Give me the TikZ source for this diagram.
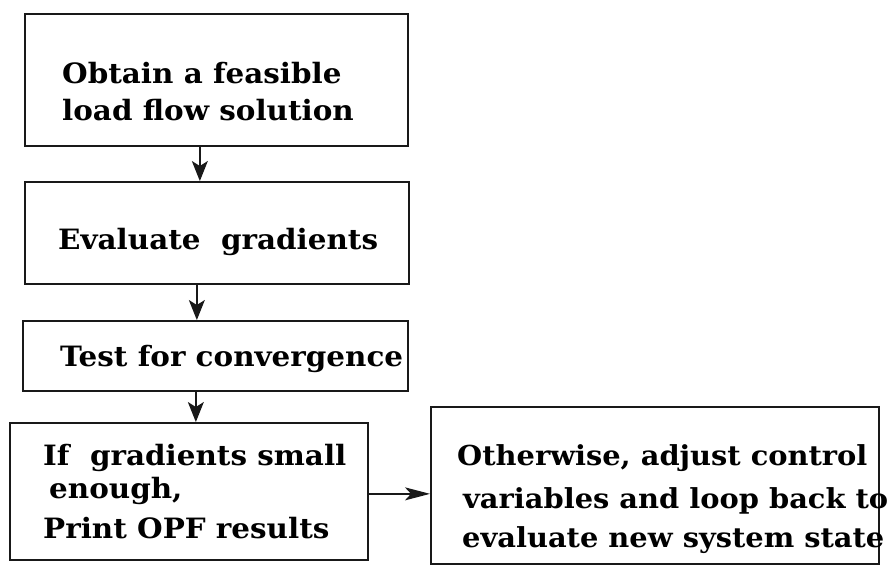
\documentclass[tikz,border=0pt]{standalone}
\usepackage{fontspec}
\setmainfont[FakeStretch=1.05]{DejaVu Serif}
\usetikzlibrary{arrows.meta}
\begin{document}
\begin{tikzpicture}[x=1pt,y=-1pt,
  box/.style={draw=black!90, line width=1.7pt, inner sep=0pt, anchor=north west},
  txt/.style={font=\bfseries\fontsize{28}{37}\selectfont, align=left, anchor=base west, inner sep=0pt},
  arr/.style={draw=black!90, line width=1.4pt, -{Stealth[length=20pt,width=16pt,inset=5pt]}},
  harr/.style={draw=black!90, line width=1.4pt, -{Stealth[length=25pt,width=13pt,inset=6pt]}}]
\useasboundingbox[fill=white] (0,0) rectangle (893,570);
% boxes
\node[box, minimum width=383pt, minimum height=132pt] (b1) at (24,13) {};
\node[box, minimum width=384pt, minimum height=102pt] (b2) at (24,181) {};
\node[box, minimum width=385pt, minimum height=70pt]  (b3) at (22,320) {};
\node[box, minimum width=358pt, minimum height=137pt] (b4) at (9,422) {};
\node[box, minimum width=448pt, minimum height=157pt] (b5) at (430,406) {};
% texts (anchor = baseline of last line)
\node[txt] (t1) at (62,120) {Obtain a feasible\\load flow solution};
\node[txt] (t2) at (58,249) {Evaluate\ \ gradients};
\node[txt] (t3) at (60,366) {Test for convergence};
\node[txt] (t4) at (43,538) {If\ \ gradients small\\[-4pt]\hspace{6pt}enough,\\[3pt]Print OPF results};
\node[txt, font=\bfseries\fontsize{27.5}{37}\selectfont] (t5) at (457,547) {Otherwise, adjust control\\[6pt]\hspace{6pt}variables and loop back to\\[2pt]\hspace{5pt}evaluate new system state};
% connectors
\draw[arr] ([xshift=-16.5pt]b1.south) -- ([xshift=-16.5pt]b1.south |- b2.north);
\draw[arr] ([xshift=-20pt]b2.south) -- ([xshift=-20pt]b2.south |- b3.north);
\draw[arr] ([xshift=-19.5pt]b3.south) -- ([xshift=-19.5pt]b3.south |- b4.north);
\draw[harr] ([yshift=-2.5pt]b4.east) -- ([yshift=-2.5pt]b4.east -| b5.west);
\end{tikzpicture}
\end{document}
